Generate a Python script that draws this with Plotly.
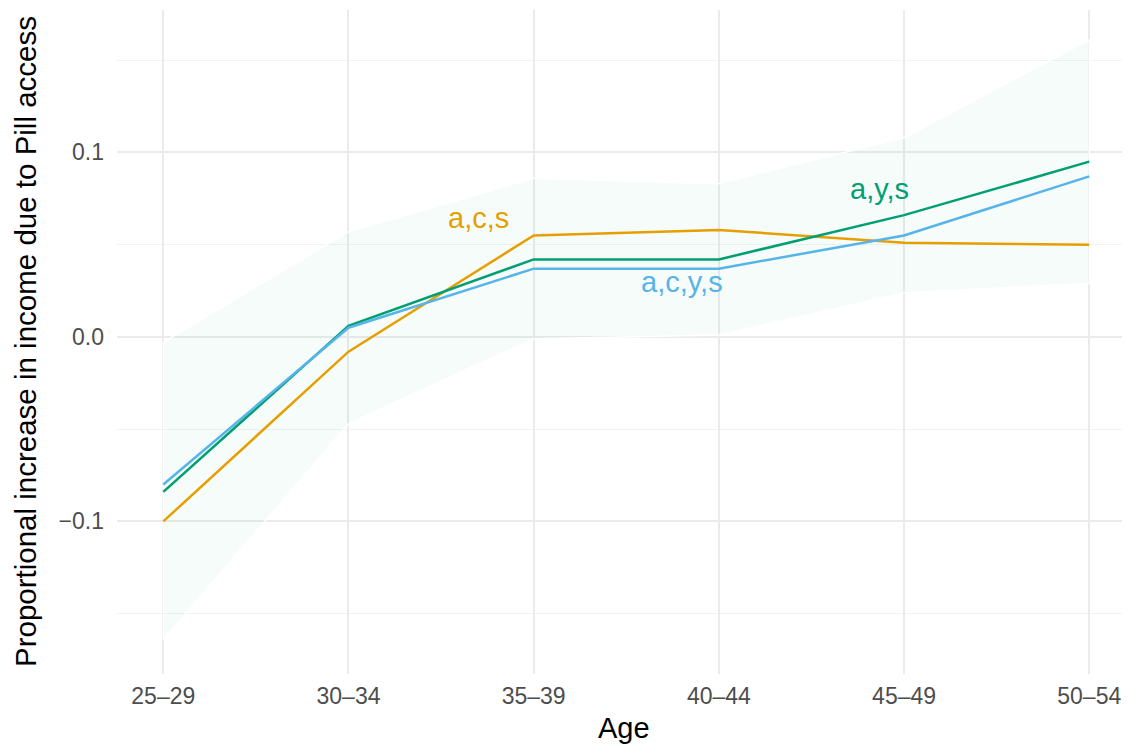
import plotly.graph_objects as go

ages = ["25–29", "30–34", "35–39", "40–44", "45–49", "50–54"]
acs = [-0.100, -0.008, 0.055, 0.058, 0.051, 0.050]
ays = [-0.084, 0.006, 0.042, 0.042, 0.066, 0.095]
acys = [-0.080, 0.005, 0.037, 0.037, 0.055, 0.087]
ribbon_hi = [-0.003, 0.057, 0.086, 0.083, 0.108, 0.161]
ribbon_lo = [-0.164, -0.047, -0.001, 0.001, 0.024, 0.029]

labels = ["a,c,s", "a,y,s", "a,c,y,s"]
label_x = [1.70, 3.87, 2.80]
label_y = [0.0645, 0.0800, 0.0300]
colors = ["#E69F00", "#009E73", "#56B4E9"]

FONT = "Liberation Sans, Arial, sans-serif"
xi = list(range(len(ages)))

poly_x = xi + xi[::-1] + [xi[0]]
poly_y = ribbon_hi + ribbon_lo[::-1] + [ribbon_hi[0]]

fig = go.Figure()
fig.add_trace(go.Scatter(x=poly_x, y=poly_y, mode="lines", fill="toself",
                         fillcolor="rgba(0,158,115,0.035)",
                         line=dict(color="white", width=1.5), showlegend=False, hoverinfo="skip"))
for ys, c in zip([acs, ays, acys], colors):
    fig.add_trace(go.Scatter(x=xi, y=ys, mode="lines", line=dict(color=c, width=2.5),
                             showlegend=False))
for t, x, y, c in zip(labels, label_x, label_y, colors):
    fig.add_annotation(x=x, y=y, text=t, showarrow=False,
                       font=dict(color=c, size=29, family=FONT))

# axis titles
fig.add_annotation(xref="paper", yref="paper", x=0.5, y=0, yshift=-54, xanchor="center",
                   yanchor="middle", text="Age", showarrow=False,
                   font=dict(size=29, color="black", family=FONT))
fig.add_annotation(xref="paper", yref="paper", x=0, y=0.5, xshift=-92, xanchor="center",
                   yanchor="middle", textangle=-90,
                   text="Proportional increase in income due to Pill access", showarrow=False,
                   font=dict(size=29.5, color="black", family=FONT))

fig.update_layout(
    width=1130, height=749,
    paper_bgcolor="white", plot_bgcolor="white",
    margin=dict(l=109, r=8, t=2, b=83),
    font=dict(family=FONT),
    xaxis=dict(range=[-0.25, 5.22], tickmode="array", tickvals=xi, ticktext=ages,
               showgrid=True, gridcolor="#ebebeb", gridwidth=2, zeroline=False,
               tickfont=dict(size=23, color="#4d4d4d"), ticks="", ticklabelstandoff=6,
               automargin=False),
    yaxis=dict(range=[-0.1827, 0.1772], tickmode="array", tickvals=[-0.1, 0.0, 0.1],
               ticktext=["−0.1", "0.0", "0.1"],
               showgrid=True, gridcolor="#ebebeb", gridwidth=2, zeroline=False,
               minor=dict(tickmode="array", tickvals=[-0.15, -0.05, 0.05, 0.15],
                          showgrid=True, gridcolor="#f2f2f2", gridwidth=1),
               tickfont=dict(size=23, color="#4d4d4d"), ticks="", ticklabelstandoff=12,
               automargin=False),
)
fig.write_html("out.html")
